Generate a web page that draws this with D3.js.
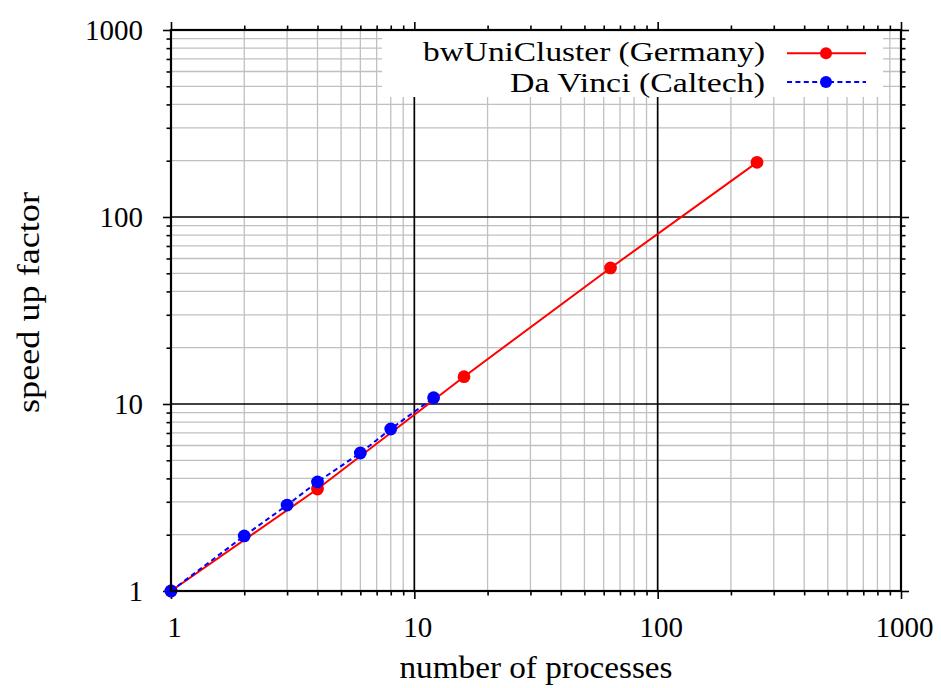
<!DOCTYPE html>
<html>
<head>
<meta charset="utf-8">
<script src="https://cdn.jsdelivr.net/npm/d3@7"></script>
<style>
  html, body { margin: 0; padding: 0; background: #fff; }
  svg { display: block; }
</style>
</head>
<body>
<svg id="chart" width="941" height="688"></svg>
<script>
// ---- data ----
const seriesNames = ["bwUniCluster (Germany)", "Da Vinci (Caltech)"];
const bwProcs   = [1, 4, 16, 64, 256];
const bwSpeedup = [1, 3.51, 14.0, 53.4, 196];
const dvProcs   = [1, 2, 3, 4, 6, 8, 12];
const dvSpeedup = [1, 1.97, 2.88, 3.83, 5.47, 7.35, 10.8];
const majorTicks = [1, 10, 100, 1000];
const majorTickLabels = ["1", "10", "100", "1000"];
const minorMultipliers = [2, 3, 4, 5, 6, 7, 8, 9];
const xTitle = "number of processes";
const yTitle = "speed up factor";

// ---- layout ----
const L = 171, R = 901, T = 30, B = 591;
const W = R - L, H = B - T;
const FONT = "'Liberation Serif', 'Times New Roman', serif";

const svg = d3.select("#chart");
const x = d3.scaleLog().domain([1, 1000]).range([L, R]);
const y = d3.scaleLog().domain([1, 1000]).range([B, T]);

const minorTicks = [];
majorTicks.slice(0, -1).forEach(d => minorMultipliers.forEach(k => minorTicks.push(d * k)));
const labelOf = v => majorTickLabels[majorTicks.indexOf(v)];

// ---- grid ----
const gMinor = svg.append("g");
gMinor.selectAll("line.vx").data(minorTicks).join("line")
  .attr("x1", d => x(d)).attr("x2", d => x(d)).attr("y1", T).attr("y2", B)
  .attr("stroke", "#c0c0c0").attr("stroke-width", 1.3);
gMinor.selectAll("line.hy").data(minorTicks).join("line")
  .attr("y1", d => y(d)).attr("y2", d => y(d)).attr("x1", L).attr("x2", R)
  .attr("stroke", "#c0c0c0").attr("stroke-width", 1.3);
const gMajor = svg.append("g");
gMajor.selectAll("line.vx").data(majorTicks.slice(1, -1)).join("line")
  .attr("x1", d => x(d)).attr("x2", d => x(d)).attr("y1", T).attr("y2", B)
  .attr("stroke", "#000").attr("stroke-width", 1.7);
gMajor.selectAll("line.hy").data(majorTicks.slice(1, -1)).join("line")
  .attr("y1", d => y(d)).attr("y2", d => y(d)).attr("x1", L).attr("x2", R)
  .attr("stroke", "#000").attr("stroke-width", 1.7);

// ---- legend box (white, covers grid) ----
const legend = svg.append("g");
legend.append("rect").attr("x", 382).attr("y", T + 1).attr("width", 883 - 382).attr("height", 97 - T - 1)
  .attr("fill", "#fff");

// ---- axes (ticks outward on all sides) ----
function styleAxis(g) {
  g.select(".domain").remove();
  g.selectAll("line").attr("stroke", "#000").attr("stroke-width", 1.6);
  g.selectAll("text").attr("font-family", FONT).attr("font-size", 29).attr("fill", "#000");
}
const axes = [
  { make: () => d3.axisBottom(x), tr: `translate(0,${B})`, labels: true, pad: 17, dx: 3 },
  { make: () => d3.axisLeft(y), tr: `translate(${L},0)`, labels: true, pad: 20, dx: 0 },
  { make: () => d3.axisTop(x), tr: `translate(0,${T})`, labels: false, pad: 3, dx: 0 },
  { make: () => d3.axisRight(y), tr: `translate(${R},0)`, labels: false, pad: 3, dx: 0 }
];
axes.forEach(a => {
  svg.append("g").attr("transform", a.tr)
    .call(a.make().tickValues(minorTicks).tickSize(4.5).tickFormat(""))
    .call(styleAxis);
  const g = svg.append("g").attr("transform", a.tr)
    .call(a.make().tickValues(majorTicks).tickSize(8).tickPadding(a.pad)
      .tickFormat(a.labels ? labelOf : ""))
    .call(styleAxis);
  if (a.dx) g.selectAll("text").attr("dx", a.dx);
});

// ---- series ----
const line = d3.line().x(d => x(d[0])).y(d => y(d[1]));
const bw = bwProcs.map((p, i) => [p, bwSpeedup[i]]);
const dv = dvProcs.map((p, i) => [p, dvSpeedup[i]]);

svg.append("path").datum(bw).attr("d", line)
  .attr("fill", "none").attr("stroke", "#ff0000").attr("stroke-width", 2);
svg.append("g").selectAll("circle").data(bw).join("circle")
  .attr("cx", d => x(d[0])).attr("cy", d => y(d[1])).attr("r", 6.4).attr("fill", "#ff0000");

svg.append("path").datum(dv).attr("d", line)
  .attr("fill", "none").attr("stroke", "#0000ff").attr("stroke-width", 2)
  .attr("stroke-dasharray", "5,3.4");
svg.append("g").selectAll("circle").data(dv).join("circle")
  .attr("cx", d => x(d[0])).attr("cy", d => y(d[1])).attr("r", 6.4).attr("fill", "#0000ff");

// ---- border ----
svg.append("rect").attr("x", L).attr("y", T).attr("width", W).attr("height", H)
  .attr("fill", "none").attr("stroke", "#000").attr("stroke-width", 2.2);

// ---- legend entries ----
const legendRows = [
  { name: seriesNames[0], color: "#ff0000", dash: null, y: 53.3, base: 61, len: 342 },
  { name: seriesNames[1], color: "#0000ff", dash: "5,3.4", y: 82, base: 91.5, len: 255 }
];
legendRows.forEach(r => {
  legend.append("text").attr("x", 765).attr("y", r.base).attr("text-anchor", "end")
    .attr("font-family", FONT).attr("font-size", 27.5).attr("fill", "#000")
    .attr("textLength", r.len).attr("lengthAdjust", "spacingAndGlyphs").text(r.name);
  legend.append("line").attr("x1", 787).attr("x2", 866).attr("y1", r.y).attr("y2", r.y)
    .attr("stroke", r.color).attr("stroke-width", 2).attr("stroke-dasharray", r.dash);
  legend.append("circle").attr("cx", 826).attr("cy", r.y).attr("r", 6).attr("fill", r.color);
});

// ---- axis titles ----
svg.append("text").attr("x", (L + R) / 2).attr("y", 678).attr("text-anchor", "middle")
  .attr("font-family", FONT).attr("font-size", 31).attr("fill", "#000")
  .attr("textLength", 273).attr("lengthAdjust", "spacingAndGlyphs").text(xTitle);
svg.append("text").attr("transform", `translate(39,302.5) rotate(-90)`).attr("text-anchor", "middle")
  .attr("font-family", FONT).attr("font-size", 31).attr("fill", "#000")
  .attr("textLength", 221).attr("lengthAdjust", "spacingAndGlyphs").text(yTitle);
</script>
</body>
</html>
